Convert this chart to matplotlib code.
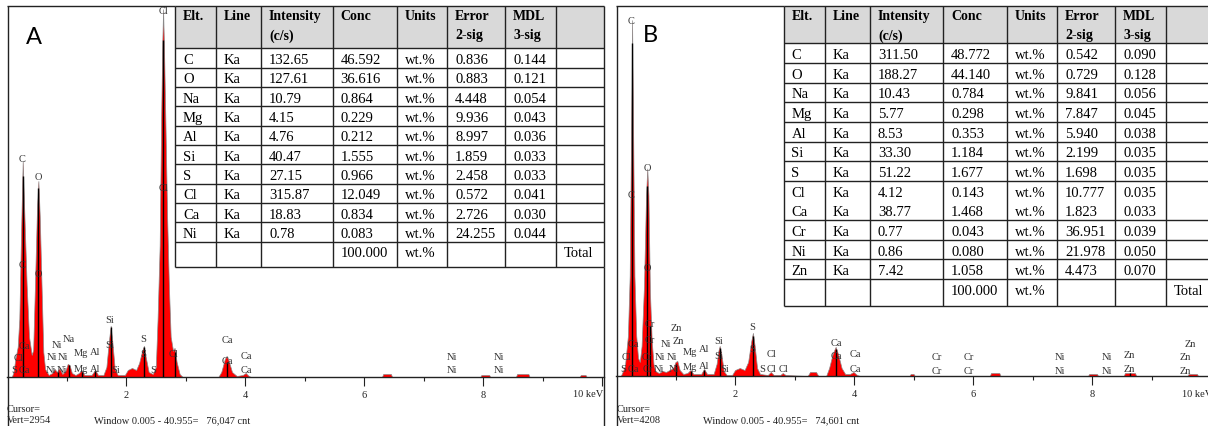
import matplotlib
matplotlib.use('Agg')
import matplotlib.pyplot as plt
from matplotlib.patches import Rectangle

# ------------------------------------------------------------------ data
# Panel A : quantification table
A_elements = ['C', 'O', 'Na', 'Mg', 'Al', 'Si', 'S', 'Cl', 'Ca', 'Ni']
A_lines = ['Ka'] * 10
A_intensity = [132.65, 127.61, 10.79, 4.15, 4.76, 40.47, 27.15, 315.87, 18.83, 0.78]
A_conc = [46.592, 36.616, 0.864, 0.229, 0.212, 1.555, 0.966, 12.049, 0.834, 0.083]
A_error = [0.836, 0.883, 4.448, 9.936, 8.997, 1.859, 2.458, 0.572, 2.726, 24.255]
A_mdl = [0.144, 0.121, 0.054, 0.043, 0.036, 0.033, 0.033, 0.041, 0.030, 0.044]
A_total = 100.000
A_vert = 2954
A_window_cnt = '76,047'

# Panel B : quantification table
B_elements = ['C', 'O', 'Na', 'Mg', 'Al', 'Si', 'S', 'Cl', 'Ca', 'Cr', 'Ni', 'Zn']
B_lines = ['Ka'] * 12
B_intensity = [311.50, 188.27, 10.43, 5.77, 8.53, 33.30, 51.22, 4.12, 38.77, 0.77, 0.86, 7.42]
B_conc = [48.772, 44.140, 0.784, 0.298, 0.353, 1.184, 1.677, 0.143, 1.468, 0.043, 0.080, 1.058]
B_error = [0.542, 0.729, 9.841, 7.847, 5.940, 2.199, 1.698, 10.777, 1.823, 36.951, 21.978, 4.473]
B_mdl = [0.090, 0.128, 0.056, 0.045, 0.038, 0.035, 0.035, 0.035, 0.033, 0.039, 0.050, 0.070]
B_total = 100.000
B_vert = 4208
B_window_cnt = '74,601'

header_top = ['Elt.', 'Line', 'Intensity', 'Conc', 'Units', 'Error', 'MDL', '']
header_bot = ['', '', '(c/s)', '', '', '2-sig', '3-sig', '']

# Spectrum A : (energy keV, counts)
A_spectrum = [
    (0.00, 0), (0.08, 0), (0.11, 40), (0.14, 144), (0.18, 240), (0.207, 464),
    (0.235, 1120), (0.264, 1720), (0.29, 1320), (0.33, 736), (0.37, 320),
    (0.415, 176), (0.44, 216), (0.47, 736), (0.505, 1360), (0.527, 1560),
    (0.55, 1280), (0.58, 736), (0.61, 200), (0.64, 64), (0.70, 16), (0.76, 32),
    (0.80, 64), (0.84, 40), (0.88, 72), (0.93, 24), (0.98, 48), (1.02, 104),
    (1.05, 96), (1.09, 32), (1.15, 16), (1.21, 32), (1.25, 56), (1.30, 16),
    (1.42, 16), (1.48, 56), (1.53, 16), (1.62, 16), (1.67, 80), (1.71, 280),
    (1.742, 408), (1.77, 280), (1.81, 64), (1.86, 16), (1.98, 16), (2.03, 56),
    (2.10, 72), (2.17, 56), (2.22, 112), (2.27, 208), (2.30, 248), (2.33, 160),
    (2.38, 40), (2.45, 24), (2.50, 80), (2.53, 464), (2.565, 1048), (2.59, 2064),
    (2.61, 2680), (2.622, 2928), (2.635, 2680), (2.66, 2064), (2.69, 1280),
    (2.72, 720), (2.75, 320), (2.79, 208), (2.815, 232), (2.85, 120), (2.90, 24),
    (2.95, 0), (3.55, 0), (3.60, 40), (3.66, 144), (3.69, 168), (3.72, 136),
    (3.78, 40), (3.86, 8), (3.96, 16), (4.01, 32), (4.06, 8), (4.10, 0),
    (6.30, 0), (6.32, 24), (6.45, 24), (6.47, 0), (7.95, 0), (7.97, 16),
    (8.10, 16), (8.12, 0), (8.55, 0), (8.57, 24), (8.76, 24), (8.78, 0),
    (9.62, 0), (9.64, 16), (9.72, 16), (9.74, 0), (10.03, 0),
]
# element line markers (energy, counts)
A_markers = [(0.277, 1600), (0.525, 1504), (0.851, 40), (1.041, 96), (1.253, 40),
             (1.486, 48), (1.740, 400), (2.307, 240), (2.622, 2680), (2.815, 200),
             (3.690, 120)]
# element labels (text, energy, counts)
A_labels = [
    ('Cl', 2.622, 2920), ('Cl', 2.622, 1512), ('C', 0.26, 1736), ('C', 0.26, 896),
    ('O', 0.52, 1600), ('O', 0.52, 824), ('Ca', 0.29, 248), ('Cl', 0.185, 152),
    ('S', 0.12, 56), ('Ca', 0.30, 56), ('Ni', 0.84, 256), ('Na', 1.04, 304),
    ('Ni', 0.76, 160), ('Ni', 0.94, 160), ('Ni', 0.73, 56), ('Ni', 0.92, 56),
    ('Mg', 1.25, 192), ('Mg', 1.25, 64), ('Al', 1.48, 200), ('Al', 1.48, 64),
    ('Si', 1.73, 456), ('Si', 1.73, 256), ('Si', 1.83, 56), ('S', 2.29, 304),
    ('S', 2.29, 184), ('S', 2.45, 56), ('Cl', 2.80, 184), ('Ca', 3.70, 296),
    ('Ca', 3.70, 128), ('Ca', 4.02, 168), ('Ca', 4.02, 56), ('Ni', 7.47, 160),
    ('Ni', 7.47, 56), ('Ni', 8.26, 160), ('Ni', 8.26, 56),
]

# Spectrum B
B_spectrum = [
    (0.00, 0), (0.08, 0), (0.11, 46), (0.15, 114), (0.20, 456), (0.23, 1140),
    (0.255, 2850), (0.27, 4047), (0.285, 2964), (0.31, 1140), (0.34, 456),
    (0.37, 205), (0.40, 160), (0.43, 342), (0.47, 1026), (0.505, 2052),
    (0.525, 2360), (0.545, 2052), (0.57, 958), (0.60, 399), (0.63, 137),
    (0.66, 57), (0.72, 34), (0.78, 57), (0.84, 46), (0.90, 68), (0.96, 91),
    (1.00, 160), (1.03, 171), (1.07, 68), (1.13, 23), (1.20, 34), (1.25, 68),
    (1.30, 23), (1.43, 23), (1.48, 80), (1.53, 23), (1.64, 23), (1.69, 137),
    (1.72, 285), (1.742, 342), (1.77, 251), (1.81, 57), (1.86, 11), (1.95, 11),
    (2.00, 68), (2.08, 91), (2.16, 68), (2.22, 160), (2.27, 388), (2.30, 490),
    (2.33, 342), (2.37, 91), (2.42, 23), (2.55, 11), (2.60, 46), (2.65, 11),
    (2.76, 11), (2.80, 34), (2.85, 11), (3.22, 0), (3.26, 46), (3.36, 46),
    (3.40, 0), (3.53, 0), (3.58, 91), (3.64, 251), (3.69, 331), (3.73, 251),
    (3.79, 91), (3.85, 23), (3.93, 23), (3.99, 46), (4.05, 11), (4.10, 0),
    (4.93, 0), (4.95, 23), (5.00, 23), (5.02, 0), (6.28, 0), (6.30, 34),
    (6.44, 34), (6.46, 0), (7.93, 0), (7.95, 23), (8.08, 23), (8.10, 0),
    (8.53, 0), (8.55, 34), (8.72, 34), (8.74, 0), (9.60, 0), (9.62, 23),
    (9.76, 23), (9.78, 0), (10.03, 0),
]
B_markers = [(0.277, 3785), (0.525, 2166), (0.573, 570), (1.012, 137), (1.253, 57),
             (1.486, 68), (1.740, 319), (2.307, 456), (3.690, 308), (8.637, 34)]
B_labels = [
    ('C', 0.25, 4047), ('C', 0.25, 2063), ('O', 0.52, 2371), ('O', 0.52, 1231),
    ('Cr', 0.57, 593), ('Cr', 0.57, 410), ('Ca', 0.29, 365), ('Cl', 0.18, 217),
    ('Cr', 0.52, 217), ('S', 0.12, 80), ('Ca', 0.29, 80), ('Cr', 0.54, 80),
    ('Zn', 1.01, 547), ('Ni', 0.84, 365), ('Zn', 1.04, 399), ('Ni', 0.74, 217),
    ('Ni', 0.94, 217), ('Ni', 0.72, 80), ('Ni', 0.97, 80), ('Mg', 1.24, 274),
    ('Mg', 1.24, 103), ('Al', 1.48, 308), ('Al', 1.48, 114), ('Si', 1.73, 399),
    ('Si', 1.73, 228), ('Si', 1.83, 80), ('S', 2.29, 559), ('S', 2.29, 308),
    ('S', 2.45, 80), ('Cl', 2.62, 251), ('Cl', 2.62, 80), ('Cl', 2.82, 80),
    ('Ca', 3.70, 376), ('Ca', 3.70, 228), ('Ca', 4.02, 251), ('Ca', 4.02, 80),
    ('Cr', 5.39, 217), ('Cr', 5.39, 68), ('Cr', 5.93, 217), ('Cr', 5.93, 68),
    ('Ni', 7.46, 217), ('Ni', 7.46, 68), ('Ni', 8.25, 217), ('Ni', 8.25, 68),
    ('Zn', 8.62, 239), ('Zn', 8.62, 80), ('Zn', 9.65, 365), ('Zn', 9.56, 217),
    ('Zn', 9.56, 68),
]

major_ticks = [2, 4, 6, 8, 10]
major_labels = ['2', '4', '6', '8', '']
minor_ticks = [1, 3, 5, 7, 9]

# ------------------------------------------------------------------ figure
W, H = 1208, 427
plt.rcParams['font.family'] = ['Liberation Serif', 'DejaVu Serif']
fig = plt.figure(figsize=(W / 100, H / 100), dpi=100)
INK = '#222222'


def px_axes(left, bottom, right, top):
    return fig.add_axes([left / W, (H - bottom) / H, (right - left) / W, (bottom - top) / H])


def draw_spectrum(ax, spectrum, markers, labels, vert):
    E = [p[0] for p in spectrum]
    C = [p[1] for p in spectrum]
    ax.fill_between(E, 0, C, facecolor='#ff0000', edgecolor='#8a8a8a',
                    linewidth=0.5, zorder=2)
    for e, c in markers:
        ax.vlines(e, 0, c, color='black', lw=1.0, zorder=3)
    for t, e, c in labels:
        ax.text(e, c, t, fontsize=7.5, ha='center', va='center', color='#333333', zorder=4)
    ax.set_xlim(0, 10.03)
    ax.set_ylim(0, vert)
    ax.set_facecolor('none')
    for s in ['top', 'left', 'right']:
        ax.spines[s].set_visible(False)
    ax.spines['bottom'].set_color(INK)
    ax.spines['bottom'].set_linewidth(1.0)
    ax.set_yticks([])
    ax.set_xticks(major_ticks)
    ax.set_xticklabels(major_labels)
    ax.set_xticks(minor_ticks, minor=True)
    ax.tick_params(axis='x', which='major', length=6.5, width=0.8, direction='out',
                   pad=3, labelsize=7.5, colors=INK)
    ax.tick_params(axis='x', which='minor', length=3.0, width=0.8, direction='out',
                   colors=INK)


axA = px_axes(7, 378, 604, 7)
draw_spectrum(axA, A_spectrum, A_markers, A_labels, A_vert)
axB = px_axes(616, 377, 1213, 7)
draw_spectrum(axB, B_spectrum, B_markers, B_labels, B_vert)

# overlay in pixel coordinates
ov = fig.add_axes([0, 0, 1, 1])
ov.set_xlim(0, W)
ov.set_ylim(H, 0)
ov.axis('off')
ov.set_facecolor('none')
ov.set_zorder(5)


def hline(y, x0, x1, **kw):
    ov.plot([x0, x1], [y, y], color=kw.get('color', INK), lw=kw.get('lw', 1.0),
            solid_capstyle='butt')


def vline(x, y0, y1, **kw):
    ov.plot([x, x], [y0, y1], color=kw.get('color', INK), lw=kw.get('lw', 1.0),
            solid_capstyle='butt')


def draw_table(cols, top, head_h, row_h, total_h, elements, lines, inten, conc,
               err, mdl, total, skip=()):
    n = len(elements)
    head_bot = top + head_h
    rows_y = [head_bot + i * row_h for i in range(n + 1)]
    bottom = rows_y[-1] + total_h
    ov.add_patch(Rectangle((cols[0], top), cols[-1] - cols[0], head_h,
                           facecolor='#d9d9d9', edgecolor='none', zorder=1))
    ov.add_patch(Rectangle((cols[0], head_bot), cols[-1] - cols[0], bottom - head_bot,
                           facecolor='white', edgecolor='none', zorder=1))
    hline(top, cols[0], cols[-1])
    hline(head_bot, cols[0], cols[-1])
    for i, y in enumerate(rows_y[1:]):
        if i in skip:
            continue
        hline(y, cols[0], cols[-1])
    hline(bottom, cols[0], cols[-1])
    for x in cols:
        vline(x, top, bottom)
    pad = 8
    for j in range(len(cols) - 1):
        ov.text(cols[j] + pad, top + 10, header_top[j], fontsize=10, fontweight='bold',
                ha='left', va='center', color='black')
        ov.text(cols[j] + pad, top + 29.5, header_bot[j], fontsize=10, fontweight='bold',
                ha='left', va='center', color='black')
    for i in range(n):
        yc = rows_y[i] + row_h / 2 + 1.5
        vals = [elements[i], lines[i], f'{inten[i]:.2f}', f'{conc[i]:.3f}', 'wt.%',
                f'{err[i]:.3f}', f'{mdl[i]:.3f}', '']
        for j, v in enumerate(vals):
            ov.text(cols[j] + pad, yc, v, fontsize=10.5, ha='left', va='center',
                    color='black')
    yc = rows_y[-1] + total_h / 2 - 2
    for j, v in [(3, f'{total:.3f}'), (4, 'wt.%'), (7, 'Total')]:
        ov.text(cols[j] + pad, yc, v, fontsize=10.5, ha='left', va='center', color='black')


colsA = [175, 215.5, 261, 332.5, 397, 447, 505, 555.5, 603.5]
draw_table(colsA, 6.5, 42.8, 19.34, 25.6, A_elements, A_lines, A_intensity, A_conc,
           A_error, A_mdl, A_total)
colsB = [783.5, 825, 870, 943, 1007, 1057, 1115, 1166, 1225]
draw_table(colsB, 6.5, 37.8, 19.64, 27, B_elements, B_lines, B_intensity, B_conc,
           B_error, B_mdl, B_total, skip=(7,))

# panel frames
vline(7.5, 6.5, H)
hline(6.5, 7, 175)
vline(603.5, 268, H)
vline(616.5, 6.5, H)
hline(6.5, 616, 783.5)

# panel letters
ov.text(34, 38, 'A', fontsize=17, family=['Lato', 'DejaVu Sans'], ha='center',
        va='center', color='black')
ov.text(650.5, 35, 'B', fontsize=17, family=['Lato', 'DejaVu Sans'], ha='center',
        va='center', color='black')

# axis end labels and cursor info
ov.text(603, 395, '10 keV', fontsize=7.5, ha='right', va='center', color=INK)
ov.text(1212, 395, '10 keV', fontsize=7.5, ha='right', va='center', color=INK)
for x0, wx, vert, cnt in [(7, 94, A_vert, A_window_cnt), (617, 703, B_vert, B_window_cnt)]:
    ov.text(x0, 410, 'Cursor=', fontsize=7.5, ha='left', va='center', color=INK)
    ov.text(x0, 421, f'Vert={vert}', fontsize=7.5, ha='left', va='center', color=INK)
    ov.text(wx, 421, f'Window 0.005 - 40.955=   {cnt} cnt', fontsize=7.5, ha='left',
            va='center', color=INK)

fig.savefig('out.png', dpi=100)
